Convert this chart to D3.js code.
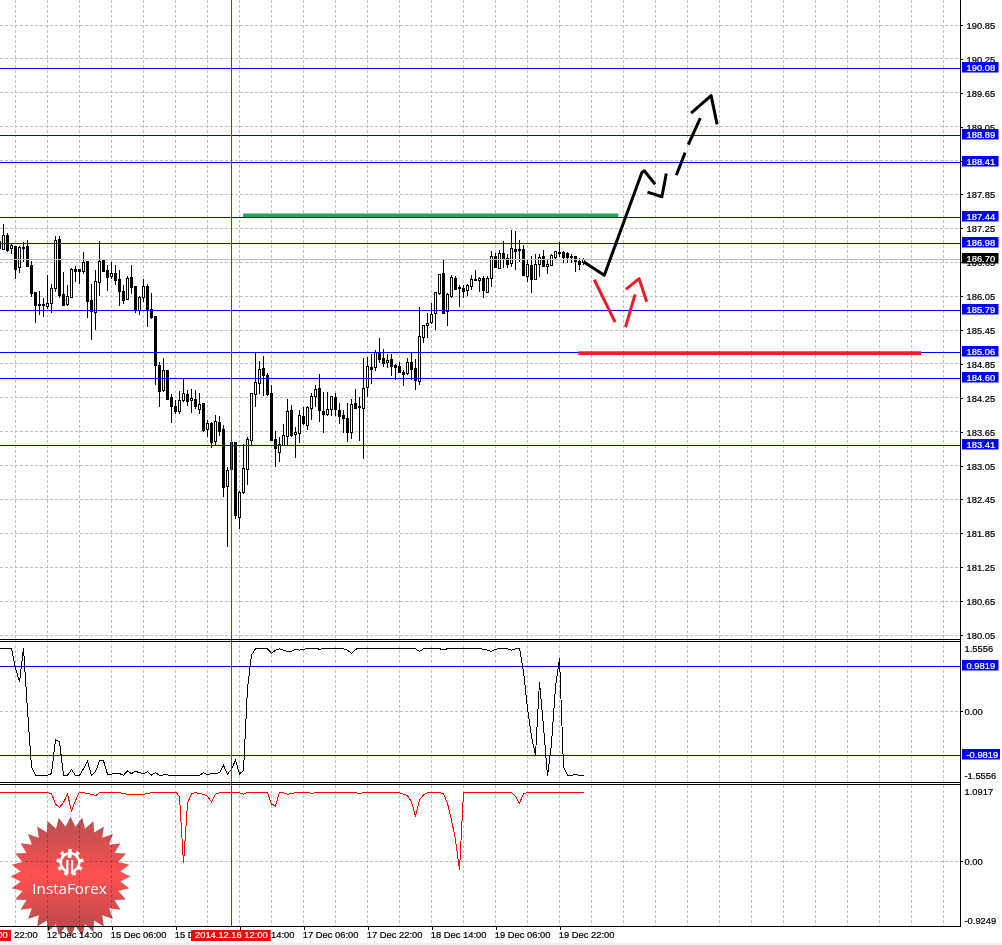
<!DOCTYPE html>
<html><head><meta charset="utf-8">
<script src="https://cdn.jsdelivr.net/npm/d3@7"></script>
<style>html,body{margin:0;padding:0;background:#fff}svg{display:block}
text{font-family:"Liberation Sans",Arial,sans-serif}</style></head><body>
<div id="c"></div>
<script>
// Candles, first bar is index -1
const opens=[187.01,186.87,187.12,186.89,186.93,186.56,186.90,186.93,186.59,186.11,
185.90,185.90,185.87,185.92,186.18,187.05,186.08,185.89,186.02,186.52,
186.52,186.48,186.66,185.98,185.76,186.29,186.69,186.50,186.39,186.45,
186.35,186.14,185.99,186.38,186.22,185.79,186.02,186.22,185.81,185.69,
184.83,184.37,184.74,184.26,184.09,184.02,184.20,184.31,184.20,184.22,
184.05,184.14,183.68,183.79,183.47,183.82,183.68,182.68,183.45,183.45,
182.13,182.58,182.98,183.49,184.30,184.50,184.77,184.64,184.33,183.51,
183.28,183.41,183.56,184.02,183.60,183.62,183.92,183.77,184.05,184.27,
184.41,184.01,183.95,184.04,184.26,184.03,183.94,183.88,183.63,184.15,
184.09,184.05,184.43,184.78,184.78,185.05,184.94,184.87,184.93,184.82,
184.81,184.70,184.67,184.87,184.77,184.54,185.31,185.53,185.58,185.74,
186.10,186.45,185.77,186.05,186.37,186.19,186.19,186.15,186.21,186.33,
186.32,186.36,186.13,186.36,186.75,186.55,186.80,186.71,186.62,186.87,
186.87,186.87,186.39,186.60,186.35,186.60,186.75,186.57,186.60,186.74,
186.83,186.82,186.80,186.75,186.75,186.67,186.64];
const highs=[187.04,187.33,187.17,186.98,186.93,186.93,187.01,187.05,186.67,186.11,
186.14,186.02,186.42,186.26,187.11,187.12,186.47,186.24,186.54,186.58,
186.52,186.83,186.66,186.26,186.51,187.02,186.70,186.60,186.66,186.60,
186.51,186.24,186.40,186.60,186.22,186.05,186.36,186.27,186.10,185.69,
184.89,184.95,184.75,184.31,184.21,184.37,184.59,184.38,184.40,184.38,
184.33,184.16,183.85,183.82,183.94,183.92,183.76,183.03,183.47,183.47,
182.60,183.44,183.56,184.34,185.06,184.91,184.99,184.68,184.47,183.66,
183.56,183.79,184.22,184.12,183.73,184.03,184.09,184.10,184.34,184.47,
184.67,184.35,184.35,184.27,184.34,184.16,184.03,184.16,184.22,184.41,
184.27,184.95,184.97,185.02,185.10,185.30,185.12,185.03,185.02,184.84,
184.89,184.75,184.95,185.06,184.93,185.85,185.53,185.75,185.93,186.11,
186.45,186.70,186.10,186.42,186.40,186.24,186.24,186.26,186.42,186.51,
186.39,186.40,186.40,186.84,186.81,186.87,187.03,186.80,187.22,187.20,
187.04,186.95,186.71,186.76,186.80,186.80,186.86,186.70,186.79,186.84,
187.00,186.85,186.83,186.80,186.76,186.73,186.73];
const lows=[186.87,186.86,186.83,186.80,186.35,186.46,186.66,186.57,186.04,185.58,
185.71,185.68,185.82,185.75,186.12,186.02,185.87,185.87,186.01,186.30,
186.26,186.45,185.66,185.27,185.45,186.05,186.47,186.14,186.36,186.24,
185.87,185.91,185.98,186.08,185.75,185.71,185.95,185.50,185.64,184.47,
184.09,184.35,184.21,183.81,183.96,183.96,184.18,184.10,183.98,184.06,
183.97,183.65,183.56,183.36,183.40,183.58,182.50,181.60,182.96,182.11,
181.93,182.54,182.70,183.41,184.09,184.31,184.28,184.29,183.50,183.03,
183.12,183.40,183.39,183.56,183.19,183.45,183.76,183.68,183.85,184.09,
183.82,183.63,183.92,183.92,183.92,183.79,183.63,183.47,183.52,184.06,
183.49,183.17,184.27,184.50,184.73,184.86,184.80,184.78,184.64,184.56,
184.68,184.45,184.65,184.56,184.38,184.47,185.22,185.30,185.56,185.45,
186.07,185.74,185.52,186.01,186.15,185.86,186.01,186.05,186.15,186.32,
186.13,186.02,186.11,186.21,186.54,186.54,186.54,186.54,186.56,186.52,
186.66,186.40,186.30,186.11,186.34,186.39,186.56,186.45,186.58,186.71,
186.74,186.63,186.63,186.63,186.48,186.51,186.60];
const closes=[186.89,187.12,186.86,186.94,186.53,186.91,186.91,186.58,186.10,185.88,
185.88,185.88,185.92,186.18,187.03,186.05,185.89,186.04,186.52,186.49,
186.48,186.64,185.95,185.78,186.31,186.66,186.48,186.37,186.45,186.33,
186.13,185.98,186.36,186.21,185.80,186.02,186.22,185.80,185.66,184.83,
184.37,184.73,184.23,184.10,184.00,184.21,184.33,184.18,184.24,184.09,
184.13,183.66,183.79,183.45,183.83,183.66,182.66,182.96,182.97,182.16,
182.57,183.00,183.51,184.33,184.52,184.75,184.64,184.30,183.50,183.35,
183.42,183.58,184.01,183.58,183.63,183.94,183.79,184.08,184.27,184.40,
184.02,183.96,184.04,184.27,184.04,183.92,183.88,183.63,184.13,184.07,
184.10,184.41,184.80,184.74,185.05,184.92,184.86,184.91,184.80,184.78,
184.71,184.66,184.87,184.74,184.56,185.33,185.53,185.56,185.72,186.11,
186.43,185.75,186.07,186.38,186.18,186.20,186.14,186.24,186.34,186.34,
186.36,186.14,186.37,186.75,186.55,186.81,186.70,186.61,186.89,186.84,
186.85,186.41,186.61,186.36,186.61,186.73,186.57,186.61,186.77,186.84,
186.82,186.73,186.73,186.74,186.66,186.62,186.69];
// Oscillators
const osc1=[1.38,1.38,1.38,1.38,.95,.65,1.39,.03,-1.22,-1.41,
-1.41,-1.41,-1.41,-1.37,-.63,-.67,-1.41,-1.41,-1.28,-1.41,
-1.41,-1.26,-1.10,-1.41,-1.33,-1.09,-1.09,-1.38,-1.38,-1.37,
-1.37,-1.41,-1.31,-1.37,-1.32,-1.35,-1.37,-1.33,-1.40,-1.35,
-1.41,-1.40,-1.40,-1.41,-1.41,-1.41,-1.41,-1.41,-1.41,-1.41,
-1.41,-1.35,-1.40,-1.37,-1.37,-1.35,-1.19,-1.38,-1.28,-1.07,
-1.38,-1.30,.51,1.24,1.38,1.39,1.39,1.38,1.28,1.35,
1.38,1.35,1.32,1.32,1.37,1.35,1.37,1.38,1.38,1.39,
1.37,1.38,1.38,1.38,1.39,1.39,1.38,1.35,1.28,1.37,
1.39,1.38,1.38,1.38,1.38,1.38,1.38,1.38,1.38,1.38,
1.38,1.38,1.38,1.38,1.38,1.32,1.38,1.38,1.38,1.38,
1.38,1.36,1.38,1.38,1.38,1.38,1.38,1.38,1.38,1.38,
1.38,1.37,1.35,1.32,1.37,1.38,1.38,1.38,1.35,1.38,
1.39,.88,.07,-.56,-.96,.65,-.34,-1.42,-.71,.54,
1.17,-1.22,-1.41,-1.41,-1.39,-1.41,-1.42];
const osc2=[.98,.98,.98,.98,.98,.98,.98,.98,.98,.98,
.98,.98,.98,.97,.82,.77,.84,.96,.72,.87,
.99,.98,.97,.96,.94,.98,.98,.98,.98,.98,
.98,.97,.96,.95,.96,.96,.96,.97,.98,.98,
.98,.98,.98,.98,.99,.93,-.03,.83,.97,.98,
.97,.96,.93,.85,.96,.98,.98,.99,.98,.98,
.98,.96,.99,.98,.98,.98,.98,.98,.82,.79,
.99,.98,.96,.97,.98,.98,.98,.99,.97,.98,
.99,.98,.98,.98,.98,.98,.98,.98,.98,.98,
.97,.98,.98,.98,.98,.98,.98,.98,.98,.98,
.98,.96,.94,.85,.64,.88,.95,.98,.98,.98,
.98,.97,.83,.59,.31,-.12,.98,.98,.98,.98,
.98,.98,.98,.98,.98,.98,.98,.98,.98,.93,
.83,.97,.98,.98,.98,.98,.98,.98,.98,.98,
.98,.98,.98,.98,.98,.98,.98];
// Axes
const priceTicks=[190.85,190.25,189.65,189.05,188.45,187.85,187.25,186.65,186.05,185.45,184.85,184.25,183.65,183.05,182.45,181.85,181.25,180.65,180.05];
const priceLevels=[190.08,188.89,188.41,187.44,186.98,185.79,185.06,184.60,183.41];
const lastPrice=186.70;
const osc1Levels=[0.9819,-0.9819];
const osc1Labels=[1.5556,0,-1.5556];
const osc2Labels=[1.0917,0,-0.9249];
const timeBars=[-5,11,27,43,59,75,91,107,123,139];
const timeLabels=["11 Dec 22:00","12 Dec 14:00","15 Dec 06:00","15 Dec 22:00","16 Dec 14:00","17 Dec 06:00","17 Dec 22:00","18 Dec 14:00","19 Dec 06:00","19 Dec 22:00"];
const crossBar=57, crossLabel="2014.12.16 12:00";
// Drawn annotations as [bar, price]
const blackStrokes=[
[[145,186.66],[150.2,186.42],[159.6,188.24],[160.2,188.27],[162.9,188.03]],
[[161,187.89],[164.6,187.81],[165.7,188.22]],
[[168.2,188.19],[170.4,188.59]],
[[171.2,188.73],[174.2,189.20]],
[[171.9,189.29],[176.9,189.60],[178.4,189.09]]];
const redStrokes=[
[[147.7,186.34],[152.9,185.59]],
[[155.5,185.50],[157.9,186.08]],
[[155.6,186.17],[158.9,186.36],[160.8,185.95]]];
const greenBar=[[59.9,187.48],[153.7,187.48]];
const redBar=[[143.7,185.04],[229.4,185.04]];

const W=1002,H=945,axisX=960.5;
const x=d3.scaleLinear().domain([0,1]).range([3.5,7.5]);
const yP=d3.scaleLinear().domain([190.85,180.05]).range([25,635]);
const yA=d3.scaleLinear().domain([1.5556,-1.5556]).range([640.8,782]);
const yB=d3.scaleLinear().domain([1.0917,-0.9249]).range([785,926]);
const snap=v=>Math.floor(v)+.5;
const fmt4=v=>d3.format('.4f')(v).replace('\u2212','-');
const svg=d3.select('#c').append('svg').attr('width',W).attr('height',H);
svg.append('rect').attr('width',W).attr('height',H).attr('fill','#fff');
svg.append('rect').attr('y',943).attr('width',W).attr('height',2).attr('fill','#f0f0f0');

// Grid
const grid=svg.append('g').attr('stroke','#c0c0c0').attr('stroke-dasharray','3,2').attr('shape-rendering','crispEdges');
const gridBars=d3.range(3,240,8);
grid.selectAll('.v').data(gridBars).join('line').attr('x1',d=>x(d)).attr('x2',d=>x(d)).attr('y1',0).attr('y2',926);
const hl=(sel,vals,sc)=>sel.append('g').selectAll('line').data(vals).join('line').attr('x1',0).attr('x2',axisX).attr('y1',d=>snap(sc(d))).attr('y2',d=>snap(sc(d)));
hl(grid,priceTicks,yP);hl(grid,[0],yA);hl(grid,[0],yB);

// Candles
const n=opens.length, bars=d3.range(n).map(k=>({b:k-1,o:opens[k],h:highs[k],l:lows[k],c:closes[k]}));
const cg=svg.append('g').attr('shape-rendering','crispEdges');
cg.selectAll('.w').data(bars).join('line').attr('stroke','#000')
 .attr('x1',d=>x(d.b)).attr('x2',d=>x(d.b)).attr('y1',d=>yP(d.h)).attr('y2',d=>yP(d.l));
cg.selectAll('.b').data(bars).join('rect').attr('stroke','#000')
 .attr('fill',d=>d.c>=d.o?'#fff':'#000')
 .attr('x',d=>x(d.b)-1).attr('width',2)
 .attr('y',d=>snap(yP(Math.max(d.o,d.c))))
 .attr('height',d=>Math.max(1,Math.round(yP(Math.min(d.o,d.c))-yP(Math.max(d.o,d.c)))));

// Current price and levels
svg.append('line').attr('x1',0).attr('x2',axisX).attr('y1',snap(yP(lastPrice))).attr('y2',snap(yP(lastPrice))).attr('stroke','#c0c0c0').attr('shape-rendering','crispEdges');
const lv=svg.append('g').attr('stroke','#0000ff').attr('shape-rendering','crispEdges');
hl(lv,priceLevels,yP);hl(lv,osc1Levels,yA);

// Oscillators
const la=d3.line().x((d,k)=>x(k-1)).y(d=>yA(d));
const lb=d3.line().x((d,k)=>x(k-1)).y(d=>yB(d));
svg.append('path').attr('d',la(osc1)).attr('fill','none').attr('stroke','#000').attr('shape-rendering','crispEdges');
svg.append('path').attr('d',lb(osc2)).attr('fill','none').attr('stroke','#ff0000').attr('shape-rendering','crispEdges');

// Annotations
const pl=d3.line().x(d=>x(d[0])).y(d=>yP(d[1]));
const ann=svg.append('g').attr('fill','none');
ann.append('path').attr('d',pl(greenBar)).attr('stroke','#22a84e').attr('stroke-width',3.6);
ann.append('path').attr('d',pl(redBar)).attr('stroke','#e8212b').attr('stroke-width',3.6);
ann.selectAll('.k').data(blackStrokes).join('path').attr('class','k').attr('d',pl).attr('stroke','#000').attr('stroke-width',3).attr('stroke-linejoin','round');
ann.selectAll('.r').data(redStrokes).join('path').attr('class','r').attr('d',pl).attr('stroke','#ed1c24').attr('stroke-width',3).attr('stroke-linejoin','round');

// Crosshair
svg.append('line').attr('x1',x(crossBar)).attr('x2',x(crossBar)).attr('y1',0).attr('y2',926).attr('stroke','#e01010').attr('shape-rendering','crispEdges');

// Logo
const cx=70.5,cy=876.5,pts=32,Ro=60,Ri=50;
const defs=svg.append('defs');
const gr=defs.append('linearGradient').attr('id','lg').attr('x1',0).attr('x2',0).attr('y1',0).attr('y2',1);
gr.append('stop').attr('offset','0').attr('stop-color','#b85050');
gr.append('stop').attr('offset','.5').attr('stop-color','#ff5050');
gr.append('stop').attr('offset','1').attr('stop-color','#b04a4a');
const star=d3.range(pts*2).map(k=>{const a=k*Math.PI/pts,r=k%2?Ri:Ro;return [cx+r*Math.sin(a),cy-r*Math.cos(a)];});
svg.append('polygon').attr('points',star.map(p=>p.join(',')).join(' ')).attr('fill','url(#lg)').style('mix-blend-mode','multiply');
const logo=svg.append('g').attr('fill','#fff');
const gc=[70,862.5];
const arc=d3.arc().innerRadius(8).outerRadius(10.5).startAngle(-2.75).endAngle(2.75);
logo.append('path').attr('d',arc()).attr('transform',`translate(${gc})`);
d3.range(9).forEach(k=>{const a=(k+.5)*40-180; if(Math.abs(a)>165)return;
 logo.append('rect').attr('x',-1.8).attr('y',-13.5).attr('width',3.6).attr('height',4.5).attr('transform',`translate(${gc}) rotate(${a})`);});
logo.append('circle').attr('cx',69.7).attr('cy',856).attr('r',2.2);
logo.append('rect').attr('x',66.2).attr('y',860).attr('width',2.2).attr('height',14);
logo.append('rect').attr('x',71).attr('y',860).attr('width',2.2).attr('height',14);
logo.append('text').attr('x',69.5).attr('y',893.5).attr('text-anchor','middle').attr('font-size',15.2).style('font-family','"Open Sans"').text('InstaForex');

// Panel frames
const fr=svg.append('g').attr('stroke','#000').attr('shape-rendering','crispEdges');
[639.5,641.5,782.5,784.5,926.5].forEach(v=>fr.append('line').attr('x1',0).attr('y1',v).attr('y2',v).attr('x2',axisX));
fr.append('line').attr('x1',axisX).attr('x2',axisX).attr('y1',0).attr('y2',926);

// Right axes
const FS=9.35, TS=.22;
function styleAxis(g){g.select('.domain').remove();g.selectAll('text').attr('font-size',FS).attr('fill','#000').attr('stroke','#000').attr('stroke-width',TS).attr('dy',0).attr('y',3.5);g.selectAll('line').attr('shape-rendering','crispEdges');}
const axP=svg.append('g').attr('transform',`translate(${axisX},0)`).call(d3.axisRight(yP).tickValues(priceTicks).tickSize(2).tickPadding(4).tickFormat(d3.format('.2f')));
styleAxis(axP);
const axA=svg.append('g').attr('transform',`translate(${axisX},0)`).call(d3.axisRight(yA).tickValues(osc1Labels).tickSize(2).tickPadding(2).tickFormat(d=>d===0?'0.00':fmt4(d)));
styleAxis(axA);
const axB=svg.append('g').attr('transform',`translate(${axisX},0)`).call(d3.axisRight(yB).tickValues(osc2Labels).tickSize(2).tickPadding(2).tickFormat(d=>d===0?'0.00':fmt4(d)));
styleAxis(axB);
// extremes sit inside the panel in the source terminal
[[axA,1.5556,7],[axA,-1.5556,-7],[axB,1.0917,6],[axB,-0.9249,-6]].forEach(([g,v,o])=>{
 const t=g.selectAll('.tick').filter(d=>d===v);t.select('line').remove();t.select('text').attr('y',3.5+o);});

// Value boxes
function box(val,sc,col,txt,w){const yy=snap(sc(val));
 svg.append('rect').attr('x',962).attr('y',yy-6.5).attr('width',w||36.5).attr('height',10.5).attr('fill',col);
 svg.append('text').attr('x',966.5).attr('y',yy+2.5).attr('font-size',FS).attr('fill','#fff').attr('stroke','#fff').attr('stroke-width',TS).text(txt);}
priceLevels.forEach(v=>box(v,yP,'#0000ff',d3.format('.2f')(v)));
box(lastPrice,yP,'#000000',d3.format('.2f')(lastPrice));
osc1Levels.forEach(v=>box(v,yA,'#0000ff',fmt4(v),v<0?38:36.5));

// Time axis
const axT=svg.append('g').attr('transform','translate(0,926.5)').call(d3.axisBottom(x).tickValues(timeBars).tickSize(3).tickFormat((d,k)=>timeLabels[k]));
axT.select('.domain').remove();
axT.selectAll('line').attr('shape-rendering','crispEdges');
axT.selectAll('text').attr('text-anchor','start').attr('x',-1.2).attr('y',11.5).attr('dy',0).attr('font-size',FS).attr('fill','#000').attr('stroke','#000').attr('stroke-width',TS);
// Crosshair time tags
svg.append('rect').attr('x',x(crossBar)-40.5).attr('y',930).attr('width',79.7).attr('height',11).attr('fill','#ff0000');
svg.append('text').attr('x',x(crossBar)-36.5).attr('y',938).attr('font-size',FS).attr('fill','#fff').attr('stroke','#fff').attr('stroke-width',TS).text(crossLabel);
svg.append('rect').attr('x',11).attr('y',930).attr('width',3).attr('height',11).attr('fill','#fff');
svg.append('rect').attr('x',0).attr('y',930).attr('width',11).attr('height',11).attr('fill','#ff0000');
svg.append('text').attr('x',7.6).attr('y',938).attr('text-anchor','end').attr('font-size',FS).attr('fill','#fff').attr('stroke','#fff').attr('stroke-width',TS).text(crossLabel);
</script></body></html>
